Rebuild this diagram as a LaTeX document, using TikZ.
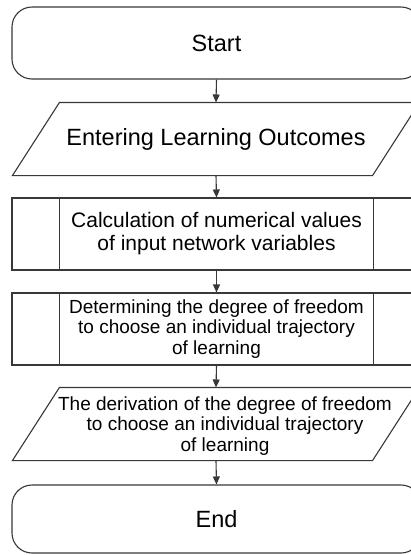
\documentclass[tikz,border=0pt]{standalone}
\usepackage{fontspec}
\setmainfont{Liberation Sans}
\usetikzlibrary{arrows.meta,calc}
\begin{document}
\begin{tikzpicture}[x=1pt,y=1pt,
  line width=1.1pt,
  lc/.style={draw=black!78},
  frame/.style={inner sep=0pt, align=center, text=black},
  big/.style={font=\fontsize{23.5}{26}\selectfont},
  mid/.style={font=\fontsize{21}{23}\selectfont},
  small/.style={font=\fontsize{19}{20.7}\selectfont},
  term/.style={frame, lc, draw, rounded corners=20pt, minimum width=409pt},
  proc/.style={frame, lc, draw, minimum width=409pt, minimum height=72pt},
  io/.style={frame, minimum width=406pt, minimum height=72pt},
  flow/.style={lc, -{Triangle[length=8pt,width=7pt]}}
]
\useasboundingbox (0,0) rectangle (411,-555);
\clip (0,0) rectangle (411,-555);
\fill[white] (0,0) rectangle (411,-555);

\node[term, big, minimum height=72pt] (start) at (216.5,-43) {Start};

\node[io, big] (in) at (216,-139) {};
\draw[lc] (in.south west) -- ($(in.north west)+(47,0)$) -- (in.north east)
  -- ($(in.south east)-(47,0)$) -- cycle;
\node[big, text=black] (intext) at (in.center) {Entering Learning Outcomes};

\node[proc, mid] (calc) at (216.5,-234) {Calculation of numerical values\\of input network variables};
\draw[lc] ($(calc.north west)+(48,0)$) -- ($(calc.south west)+(48,0)$);
\draw[lc] ($(calc.north east)-(48,0)$) -- ($(calc.south east)-(48,0)$);

\node[proc, small] (det) at (216.5,-329) {Determining the degree of freedom\\to choose an individual trajectory\\of learning};
\draw[lc] ($(det.north west)+(48,0)$) -- ($(det.south west)+(48,0)$);
\draw[lc] ($(det.north east)-(48,0)$) -- ($(det.south east)-(48,0)$);

\node[io] (out) at (216,-424) {};
\draw[lc] (out.south west) -- ($(out.north west)+(47,0)$) -- (out.north east)
  -- ($(out.south east)-(47,0)$) -- cycle;
\node[small, align=center, text=black] (outtext) at ($(out.center)+(9,-2)$) {The derivation of the degree of freedom\\to choose an individual trajectory\\of learning};

\node[term, big, minimum height=68pt] (end) at (216.5,-519) {End};

\draw[flow] (start.south) -- (in.north);
\draw[flow] (in.south) -- (calc.north);
\draw[flow] (calc.south) -- (det.north);
\draw[flow] (det.south) -- (out.north);
\draw[flow] (out.south) -- (end.north);
\end{tikzpicture}
\end{document}
